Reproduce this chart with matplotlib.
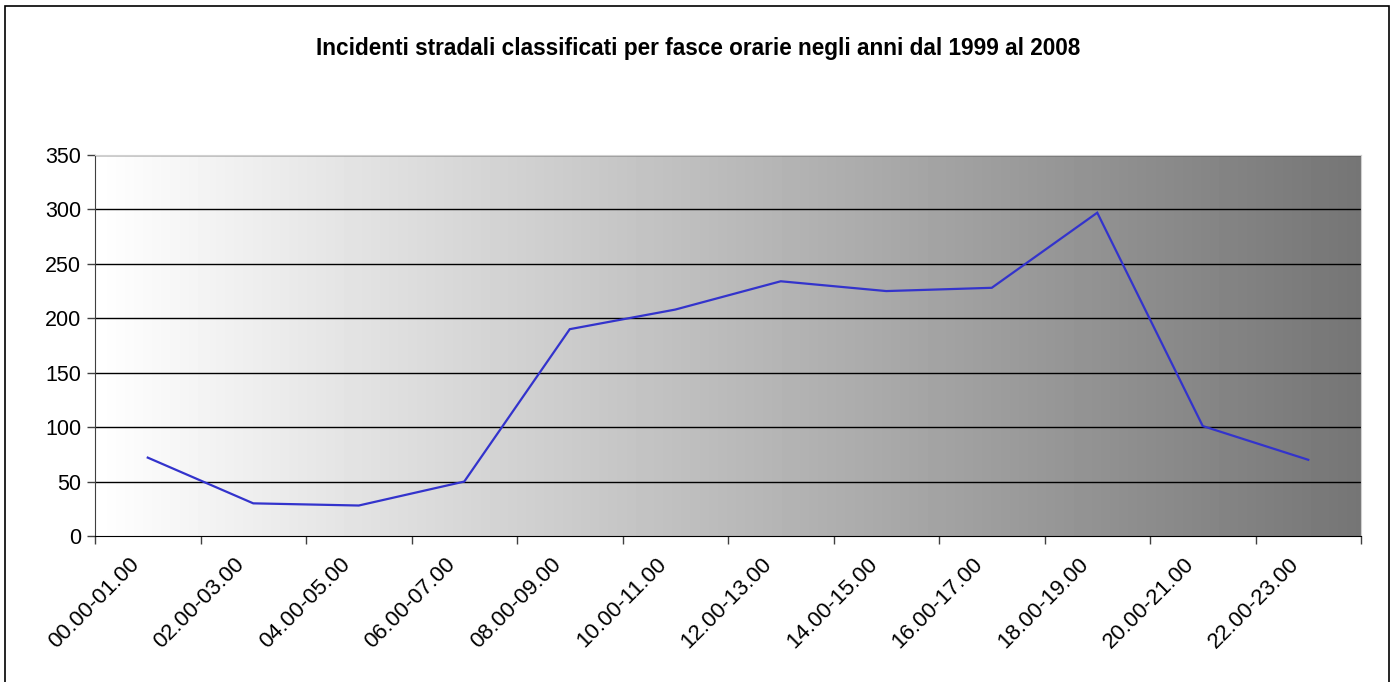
import matplotlib
matplotlib.use("Agg")
import matplotlib.pyplot as plt
import numpy as np
from matplotlib.patches import Rectangle

categories = ["00.00-01.00", "01.00-02.00", "02.00-03.00", "03.00-04.00",
              "04.00-05.00", "05.00-06.00", "06.00-07.00", "07.00-08.00",
              "08.00-09.00", "09.00-10.00", "10.00-11.00", "11.00-12.00"]
# Shown labels (every other band, as in the original)
shown_labels = ["00.00-01.00", "02.00-03.00", "04.00-05.00", "06.00-07.00",
                "08.00-09.00", "10.00-11.00", "12.00-13.00", "14.00-15.00",
                "16.00-17.00", "18.00-19.00", "20.00-21.00", "22.00-23.00"]
values = [72, 30, 28, 50, 190, 208, 234, 225, 228, 297, 101, 70]
yticks = [0, 50, 100, 150, 200, 250, 300, 350]
title = "Incidenti stradali classificati per fasce orarie negli anni dal 1999 al 2008"

plt.rcParams['font.family'] = ['Liberation Sans', 'DejaVu Sans']

W, H = 1395, 682
fig = plt.figure(figsize=(W / 100, H / 100), dpi=100)
ax = fig.add_axes([95 / W, 1 - 536 / H, (1361 - 95) / W, (536 - 155) / H])

n = len(values)
ax.set_xlim(0, n)
ax.set_ylim(0, 350)

# gradient background
grad = np.linspace(1.0, 0.46, 256).reshape(1, -1)
ax.imshow(grad, aspect='auto', cmap='gray', vmin=0, vmax=1,
          extent=[0, n, 0, 350], zorder=0, interpolation='bilinear')

for yv in yticks[1:]:
    ax.axhline(yv, color='black', lw=1.0, zorder=1)

x = np.arange(n) + 0.5
ax.plot(x, values, color='#3333CC', lw=1.6, zorder=3, solid_joinstyle='miter')

# ticks at category boundaries, labels near category centers
ax.set_xticks(np.arange(n + 1))
ax.set_xticklabels([])
ax.tick_params(axis='x', which='major', length=6, width=1, color='#404040', direction='out')
for xi, lab in zip(x, shown_labels):
    ax.annotate(lab, xy=(xi, 0), xycoords=ax.get_xaxis_transform(),
                xytext=(-14, -13), textcoords='offset points',
                rotation=45, ha='right', va='top', rotation_mode='anchor',
                fontsize=16, annotation_clip=False)

ax.set_yticks(yticks)
ax.set_yticklabels([str(v) for v in yticks], fontsize=15.5)
ax.tick_params(axis='y', length=6, width=1, color='#404040', direction='out', pad=4)

ax.spines['left'].set_color('#404040')
ax.spines['bottom'].set_color('black')
ax.spines['top'].set_color('#d0d0d0')
ax.spines['right'].set_color('#d0d0d0')

fig.text(0.5 * (313 + 1083) / W, 1 - 49 / H, title, ha='center', va='center',
         fontsize=16.3, fontweight='bold')

# outer chart border (bottom cut off)
fig.add_artist(Rectangle((5 / W, -0.05), (1389 - 5) / W, 1.05 - 6 / H,
                         transform=fig.transFigure, fill=False,
                         edgecolor='black', lw=1.2))

fig.savefig("out.png", dpi=100)
